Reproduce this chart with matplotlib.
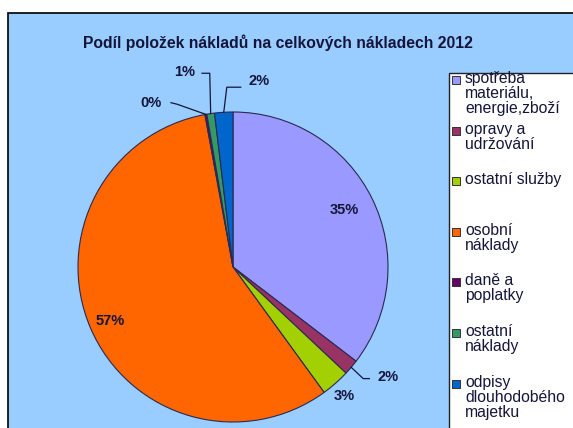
import numpy as np
import matplotlib

matplotlib.use("Agg")
import matplotlib.pyplot as plt
from matplotlib.patches import Rectangle

plt.rcParams["font.family"] = ["Liberation Sans", "DejaVu Sans"]

# data (percent of total costs, 2012)
CATEGORIES = [
    "spotřeba\nmateriálu,\nenergie,zboží",
    "opravy a\nudržování",
    "ostatní služby",
    "osobní\nnáklady",
    "daně a\npoplatky",
    "ostatní\nnáklady",
    "odpisy\ndlouhodobého\nmajetku",
]
SHARES = [35.4, 1.6, 3.0, 57.1, 0.2, 0.8, 1.9]
COLORS = ["#9999FF", "#993366", "#A2D000", "#FF6600", "#660066", "#339966", "#0066CC"]
TITLE = "Podíl položek nákladů na celkových nákladech 2012"

# label placement (data units of the pie axes, radius 1); for outside labels the
# leader starts at the text edge, runs through the elbow and ends on the wedge
LABEL_POS = [(0.72, 0.37), (1.0, -0.71), (0.72, -0.83), (-0.79, -0.35),
             (-0.53, 1.06), (-0.31, 1.26), (0.17, 1.20)]
LEADER = [None,
          [(0.88, -0.72), (0.84, -0.72)],
          None, None,
          [(-0.40, 1.06), (-0.36, 1.05)],
          [(-0.20, 1.25), (-0.15, 1.25)],
          [(0.05, 1.16), (-0.04, 1.16)]]

BG = "#99CCFF"
INK = "#15153A"
W, H = 573, 428


def fx(px):
    return px / W


def fy(py):
    return 1 - py / H


fig = plt.figure(figsize=(W / 100, H / 100), dpi=100, facecolor="white")

# chart area
fig.patches.append(Rectangle((fx(8), -0.1), 1.2, fy(13) + 0.1, transform=fig.transFigure,
                             facecolor=BG, edgecolor="black", lw=1.2, zorder=-5))
fig.text(fx(278), fy(43), TITLE, ha="center", va="center", fontsize=11.3,
         fontweight="bold", color=INK)

# pie: centre (233, 267), radius 155 px
r = 155
ax = fig.add_axes([fx(233 - r), fy(267 + r), 2 * r / W, 2 * r / H])
ax.set_zorder(0)
wedges, _ = ax.pie(SHARES, colors=COLORS, startangle=90, counterclock=False,
                   wedgeprops=dict(edgecolor="#2A2A50", linewidth=0.8))
ax.set_xlim(-1, 1)
ax.set_ylim(-1, 1)
ax.set_aspect("equal")
ax.axis("off")

for w, share, pos, lead in zip(wedges, SHARES, LABEL_POS, LEADER):
    ax.text(pos[0], pos[1], f"{share:.0f}%", ha="center", va="center", fontsize=10.5,
            fontweight="bold", color=INK, clip_on=False)
    if lead is not None:
        mid = np.deg2rad((w.theta1 + w.theta2) / 2)
        xs = [p[0] for p in lead] + [np.cos(mid)]
        ys = [p[1] for p in lead] + [np.sin(mid)]
        ax.plot(xs, ys, color=INK, lw=0.9, clip_on=False)

# legend drawn like the Excel one (box runs off the right/bottom edge)
fig.patches.append(Rectangle((fx(449), -0.1), 0.3, fy(73) + 0.1, transform=fig.transFigure,
                             facecolor="white", edgecolor="#222222", lw=1, zorder=1))
step = 50.6
for i, (name, col) in enumerate(zip(CATEGORIES, COLORS)):
    y0 = 80 + i * step
    fig.patches.append(Rectangle((fx(452), fy(y0 + 4)), 8 / W, 8 / H,
                                 transform=fig.transFigure, facecolor=col,
                                 edgecolor="#333333", lw=0.7, zorder=2))
    fig.text(fx(465), fy(y0 - 9), name, ha="left", va="top", fontsize=11.3,
             linespacing=1.0, color=INK, zorder=3)

fig.savefig("out.png", dpi=100)
